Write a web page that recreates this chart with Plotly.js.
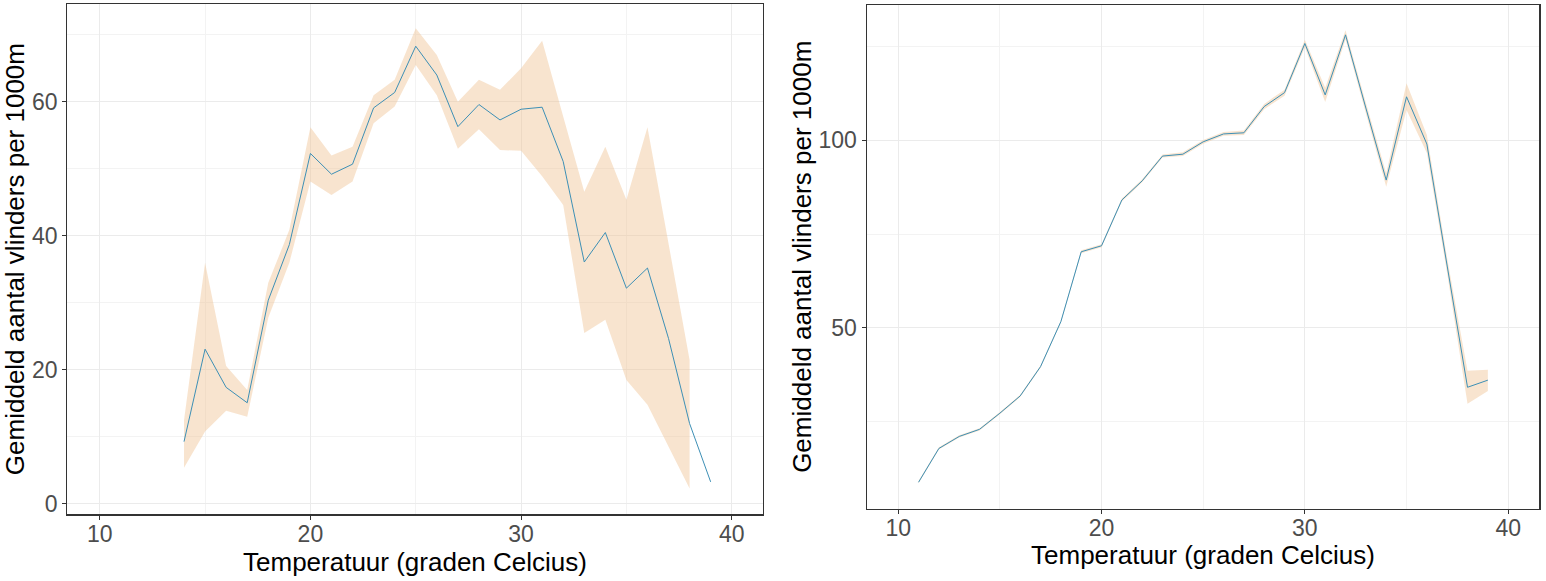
<!DOCTYPE html>
<html>
<head>
<meta charset="utf-8">
<script src="https://cdn.plot.ly/plotly-3.0.1.min.js"></script>
<style>
  body { margin: 0; background: #fff; }
  #chart { width: 1546px; height: 581px; }
</style>
</head>
<body>
<div id="chart"></div>
<script>
// left panel: mean per temperature with confidence band
const tempLeft = [14, 15, 16, 17, 18, 19, 20, 21, 22, 23, 24, 25, 26, 27, 28, 29, 30, 31, 32, 33, 34, 35, 36, 37, 38, 39];
const meanLeft = [9.3, 23.1, 17.4, 15.1, 30.4, 38.7, 52.3, 49.2, 50.7, 59.1, 61.4, 68.3, 64.0, 56.3, 59.6, 57.3, 58.9, 59.2, 51.1, 36.1, 40.5, 32.2, 35.2, 24.7, 12.0, 3.3];
const bandTempLeft = [14, 15, 16, 17, 18, 19, 20, 21, 22, 23, 24, 25, 26, 27, 28, 29, 30, 31, 32, 33, 34, 35, 36, 37, 38];
const upperLeft = [12.5, 36.0, 20.6, 17.0, 33.0, 40.9, 56.2, 52.0, 53.3, 61.0, 63.3, 71.0, 67.0, 60.0, 63.3, 61.8, 65.0, 69.1, 57.8, 46.6, 53.3, 45.4, 56.2, 39.0, 21.5];
const lowerLeft = [5.4, 10.8, 13.9, 13.0, 27.8, 36.0, 48.1, 46.1, 48.1, 56.8, 59.3, 65.5, 61.0, 53.0, 55.9, 52.8, 52.7, 48.9, 44.6, 25.5, 27.5, 18.5, 14.8, 8.6, 2.3];

// right panel
const tempRight = [11, 12, 13, 14, 15, 16, 17, 18, 19, 20, 21, 22, 23, 24, 25, 26, 27, 28, 29, 30, 31, 32, 33, 34, 35, 36, 37, 38, 39];
const meanRight = [8.9, 17.9, 21.1, 23.0, 27.3, 31.9, 39.7, 51.7, 70.3, 71.9, 84.1, 89.2, 95.8, 96.3, 99.6, 101.7, 102.0, 109.0, 112.7, 125.8, 112.1, 128.1, 108.6, 89.4, 111.6, 99.0, 66.5, 34.2, 36.1];
const upperRight = [9.2, 18.2, 21.4, 23.3, 27.6, 32.2, 40.0, 52.0, 70.7, 72.3, 84.5, 89.6, 96.2, 96.8, 100.1, 102.2, 102.6, 109.7, 113.5, 126.8, 114.0, 129.3, 110.0, 91.2, 115.2, 101.4, 68.5, 38.6, 38.9];
const lowerRight = [8.6, 17.6, 20.8, 22.7, 27.0, 31.6, 39.4, 51.4, 69.9, 71.5, 83.7, 88.8, 95.4, 95.8, 99.1, 101.2, 101.4, 108.3, 111.9, 124.8, 110.2, 126.9, 107.2, 87.6, 108.1, 96.6, 64.5, 29.8, 33.2];

const xTitle = "Temperatuur (graden Celcius)";
const yTitle = "Gemiddeld aantal vlinders per 1000m";

const lineColor = "#3d8fb5";
const bandColor = "rgba(240, 196, 148, 0.45)";
const font = "Liberation Sans, Arial, sans-serif";

function band(x, lo, hi, xa, ya) {
  return [
    { x: x, y: lo, xaxis: xa, yaxis: ya, mode: "lines", line: { width: 0 }, hoverinfo: "skip", showlegend: false },
    { x: x, y: hi, xaxis: xa, yaxis: ya, mode: "lines", line: { width: 0 }, fill: "tonexty", fillcolor: bandColor, hoverinfo: "skip", showlegend: false },
  ];
}

const data = [
  ...band(bandTempLeft, lowerLeft, upperLeft, "x", "y"),
  { x: tempLeft, y: meanLeft, xaxis: "x", yaxis: "y", mode: "lines", line: { color: lineColor, width: 1 }, showlegend: false },
  ...band(tempRight, lowerRight, upperRight, "x2", "y2"),
  { x: tempRight, y: meanRight, xaxis: "x2", yaxis: "y2", mode: "lines", line: { color: lineColor, width: 1 }, showlegend: false },
];

// shared look of the ggplot theme_bw axes
function axis(extra) {
  return Object.assign({
    showline: true,
    mirror: true,
    linecolor: "#333333",
    linewidth: 1.2,
    ticks: "outside",
    ticklen: 4,
    tickcolor: "#333333",
    tickfont: { family: font, size: 23, color: "#4d4d4d" },
    showgrid: true,
    gridcolor: "#ebebeb",
    gridwidth: 1,
    zeroline: false,
    tick0: 0,
  }, extra);
}

const W = 1546, H = 581;
const titleFont = { family: font, size: 26, color: "#000" };

// y titles as rotated annotations so they sit right against the tick labels
const yTitleNote = (xPx, topPx, bottomPx) => ({
  text: yTitle,
  textangle: -90,
  xref: "paper", yref: "paper",
  x: xPx / W, y: 1 - (topPx + bottomPx) / 2 / H,
  xanchor: "center", yanchor: "middle",
  showarrow: false,
  font: titleFont,
});

const layout = {
  width: W,
  height: H,
  margin: { t: 0, b: 0, l: 0, r: 0 },
  paper_bgcolor: "#ffffff",
  plot_bgcolor: "#ffffff",
  showlegend: false,
  xaxis: axis({
    domain: [67.3 / W, 762.7 / W], anchor: "y", range: [8.46, 41.47], dtick: 10,
    ticklabelstandoff: -5,
    minor: { dtick: 5, showgrid: true, gridcolor: "#f3f3f3", gridwidth: 1 },
    title: { text: xTitle, font: titleFont, standoff: 5 },
  }),
  yaxis: axis({
    domain: [1 - 514.3 / H, 1 - 4 / H], anchor: "x", range: [-1.54, 74.6], dtick: 20,
    minor: { dtick: 10, showgrid: true, gridcolor: "#f3f3f3", gridwidth: 1 },
  }),
  xaxis2: axis({
    domain: [866.7 / W, 1539.3 / W], anchor: "y2", range: [8.45, 41.53], dtick: 10,
    ticklabelstandoff: -6,
    minor: { dtick: 5, showgrid: true, gridcolor: "#f3f3f3", gridwidth: 1 },
    title: { text: xTitle, font: titleFont, standoff: 1 },
  }),
  yaxis2: axis({
    domain: [1 - 508.7 / H, 1 - 5 / H], anchor: "x2", range: [1.85, 136.05], dtick: 50,
    minor: { dtick: 25, showgrid: true, gridcolor: "#f3f3f3", gridwidth: 1 },
  }),
  annotations: [yTitleNote(15, 4, 514.3), yTitleNote(802, 5, 508.7)],
};

Plotly.newPlot("chart", data, layout, { staticPlot: true });
</script>
</body>
</html>
